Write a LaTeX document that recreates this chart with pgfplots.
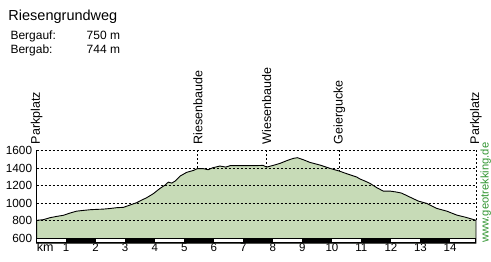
\documentclass[border=0pt]{standalone}
\usepackage{fontspec}
\setmainfont{Liberation Sans}
\usepackage{pgfplots}
\usepackage{pgfplotstable}
\pgfplotsset{compat=1.18}
\definecolor{profilefill}{RGB}{199,219,183}
\definecolor{urlgreen}{RGB}{51,150,51}

\pgfplotstableread{
km elev
0.00 804
0.23 812
0.45 834
0.68 849
0.90 861
1.13 887
1.36 909
1.58 917
1.81 925
2.04 929
2.26 932
2.49 939
2.71 948
2.94 952
3.16 978
3.39 1005
3.50 1025
3.73 1062
3.95 1107
4.18 1168
4.35 1205
4.46 1239
4.58 1228
4.69 1251
4.86 1308
5.08 1350
5.31 1372
5.44 1392
5.65 1392
5.81 1380
5.97 1403
6.21 1422
6.41 1410
6.55 1426
7.40 1426
7.67 1430
7.79 1410
8.02 1430
8.24 1452
8.47 1483
8.69 1509
8.83 1517
9.03 1494
9.26 1463
9.60 1433
9.94 1395
10.25 1365
10.50 1335
10.84 1297
10.95 1275
11.12 1251
11.29 1225
11.52 1176
11.74 1137
11.97 1137
12.19 1126
12.36 1114
12.64 1069
12.93 1023
13.21 997
13.55 940
13.89 909
14.23 864
14.51 841
14.88 805
}\profile

\begin{document}
\begin{tikzpicture}
\useasboundingbox (0,0) rectangle (491pt,262pt);
% title and totals
\node[anchor=base west, inner sep=0pt, font=\fontsize{14.5}{16}\selectfont] at (8.3pt,241.3pt) {Riesengrundweg};
\node[anchor=base west, inner sep=0pt, font=\fontsize{12}{14}\selectfont] at (10.3pt,222.7pt) {Bergauf:};
\node[anchor=base east, inner sep=0pt, font=\fontsize{12}{14}\selectfont] at (120.3pt,222.7pt) {750 m};
\node[anchor=base west, inner sep=0pt, font=\fontsize{12}{14}\selectfont] at (10.3pt,208.7pt) {Bergab:};
\node[anchor=base east, inner sep=0pt, font=\fontsize{12}{14}\selectfont] at (120.3pt,208.7pt) {744 m};
% url
\node[rotate=90, anchor=west, inner sep=0pt, text=urlgreen, font=\fontsize{11.2}{13}\selectfont] at (485.7pt,19pt) {www.geotrekking.de};

\begin{axis}[
  at={(36.6pt,18.7pt)}, anchor=south west,
  scale only axis, width=439.4pt, height=92.9pt,
  xmin=0, xmax=14.88, ymin=543, ymax=1600,
  clip=false,
  axis line style={draw=none},
  major tick length=0pt,
  xtick={1,...,14},
  ytick={600,800,...,1600},
  /pgf/number format/assume math mode=true,
  /pgf/number format/set thousands separator={},
  xticklabel style={anchor=base, inner sep=0pt, yshift=-8.6pt, font=\fontsize{11.5}{13}\selectfont},
  yticklabel style={anchor=east, inner sep=0pt, xshift=-4.3pt, font=\fontsize{11.8}{13}\selectfont},
]
\addplot[fill=profilefill, draw=black, line width=0.9pt] table[x=km, y=elev] {\profile} \closedcycle;

% grid
\pgfplotsinvokeforeach{800,1000,1200,1400,1600}{
  \draw[line width=0.9pt, dash pattern=on 2pt off 2pt] (axis cs:0,#1) -- (axis cs:14.88,#1);
}

% km bar
\fill[black] (axis cs:0,543) rectangle (axis cs:14.88,600);
\pgfplotsinvokeforeach{0,2,4,6,8,10,12}{
  \fill[white] (axis cs:#1,554.4) rectangle (axis cs:#1+1,588.6);
}
\fill[white] (axis cs:14,554.4) rectangle (axis cs:14.846,588.6);

% left axis line
\draw[line width=1pt] (axis cs:0,543) -- (axis cs:0,1600);

% waypoint markers
\draw[line width=0.9pt, dash pattern=on 2pt off 2pt] (axis cs:5.46,1600) -- (axis cs:5.46,1392);
\draw[line width=0.9pt, dash pattern=on 2pt off 2pt] (axis cs:7.79,1600) -- (axis cs:7.79,1410);
\draw[line width=0.9pt, dash pattern=on 2pt off 2pt] (axis cs:10.25,1600) -- (axis cs:10.25,1365);
\draw[line width=0.9pt, dash pattern=on 2pt off 2pt] (axis cs:14.88,1600) -- (axis cs:14.88,805);

\node[yshift=6pt, rotate=90, anchor=west, inner sep=0pt, font=\fontsize{12.5}{14}\selectfont] at (axis cs:0,1600) {Parkplatz};
\node[yshift=6pt, rotate=90, anchor=west, inner sep=0pt, font=\fontsize{12.5}{14}\selectfont] at (axis cs:5.46,1600) {Riesenbaude};
\node[yshift=6pt, rotate=90, anchor=west, inner sep=0pt, font=\fontsize{12.5}{14}\selectfont] at (axis cs:7.79,1600) {Wiesenbaude};
\node[yshift=6pt, rotate=90, anchor=west, inner sep=0pt, font=\fontsize{12.5}{14}\selectfont] at (axis cs:10.25,1600) {Geiergucke};
\node[yshift=6pt, rotate=90, anchor=west, inner sep=0pt, font=\fontsize{12.5}{14}\selectfont] at (axis cs:14.88,1600) {Parkplatz};

\node[anchor=base west, inner sep=0pt, yshift=-8.6pt, font=\fontsize{12.5}{14}\selectfont] at (axis cs:0,543) {km};
\end{axis}
\end{tikzpicture}
\end{document}
